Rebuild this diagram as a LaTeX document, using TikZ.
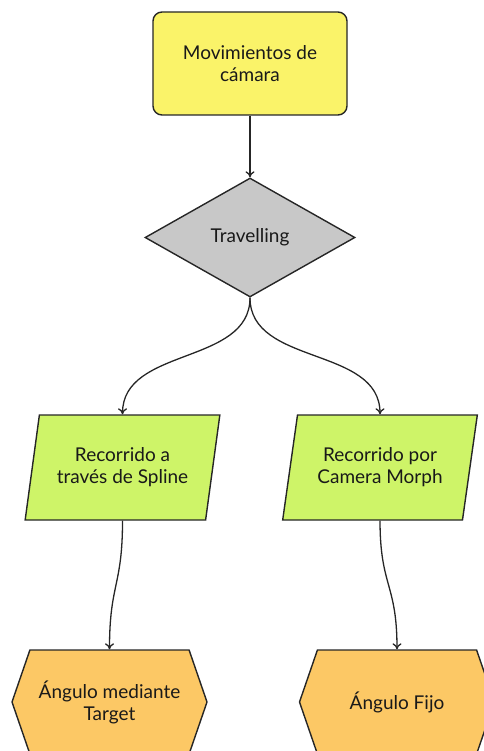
\documentclass[tikz,border=0pt]{standalone}
\usepackage{fontspec}
\setmainfont{Lato}
\usetikzlibrary{shapes.geometric,shapes.symbols,arrows.meta}
\definecolor{cyel}{RGB}{250,243,105}
\definecolor{cgray}{RGB}{200,200,200}
\definecolor{cgreen}{RGB}{206,244,104}
\definecolor{corange}{RGB}{252,200,101}
\definecolor{ctext}{RGB}{25,25,25}
\tikzset{
  base/.style={draw=black!85, line width=1.4pt, align=center, text=ctext, font=\fontsize{19}{22}\selectfont, inner sep=0pt},
  startbox/.style={base, rectangle, rounded corners=9pt, fill=cyel, minimum width=194pt, minimum height=103pt},
  decbox/.style={base, diamond, fill=cgray, minimum width=210pt, minimum height=119pt},
  iobox/.style={base, trapezium, trapezium left angle=74, trapezium right angle=106, trapezium stretches=true, fill=cgreen, minimum width=195pt, minimum height=105pt},
  hexbox/.style={base, signal, signal to=west and east, signal pointer angle=142, fill=corange, minimum width=195pt, minimum height=104pt},
  conn/.style={draw=black!85, line width=1.3pt, -{To[length=6pt,width=9pt]}}
}
\begin{document}
\begin{tikzpicture}[x=1pt,y=-1pt]
\useasboundingbox (0,0) rectangle (483,751);
\node[startbox] (m) at (250,63.5) {Movimientos de\\cámara};
\node[decbox] (t) at (250,237.5) {Travelling};
\node[iobox] (l) at (122.5,467.5) {Recorrido a\\través de Spline};
\node[iobox] (r) at (380,467.5) {Recorrido por\\Camera Morph};
\node[hexbox] (hl) at (109.5,702) {Ángulo mediante\\Target};
\node[hexbox] (hr) at (397,702) {Ángulo Fijo};
\draw[conn] (m.south) -- (t.north);
\draw[conn] (t.south) to[out=-90,in=90] (l.north);
\draw[conn] (t.south) to[out=-90,in=90] (r.north);
\draw[conn] (l.south) to[out=-90,in=90,looseness=1.3] (hl.north);
\draw[conn] (r.south) to[out=-90,in=90,looseness=1.3] (hr.north);
\end{tikzpicture}
\end{document}
